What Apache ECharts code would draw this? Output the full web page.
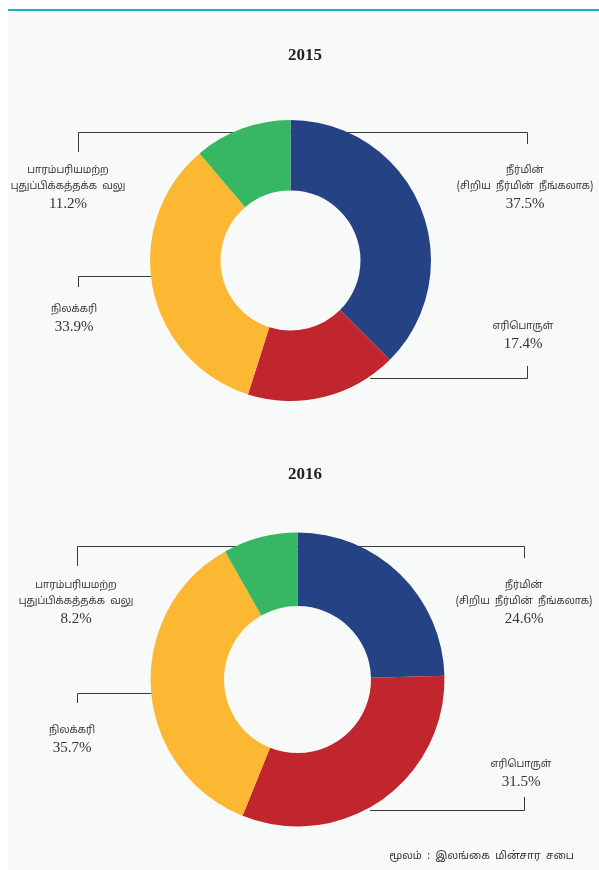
<!DOCTYPE html>
<html>
<head>
<meta charset="utf-8">
<script src="https://cdn.jsdelivr.net/npm/echarts@6/dist/echarts.min.js"></script>
<style>
  html, body { margin: 0; padding: 0; background: #ffffff; }
  #chart { width: 599px; height: 870px; }
</style>
</head>
<body>
<div id="chart"></div>
<script>
// data
const years = ['2015', '2016']
const categories = [
  'நீர்மின்\n(சிறிய  நீர்மின்  நீங்கலாக)',
  'எரிபொருள்',
  'நிலக்கரி',
  'பாரம்பரியமற்ற\nபுதுப்பிக்கத்தக்க  வலு'
]
const values2015 = [37.5, 17.4, 33.9, 11.2]
const values2016 = [24.6, 31.5, 35.7, 8.2]
const sourceText = 'மூலம்  :  இலங்கை  மின்சார  சபை'

const colors = ['#254284', '#c1262f', '#fdb833', '#37b664']

// where each label block sits (centre), per chart
const labelPos = [
  [[525, 188], [523, 336], [74, 319], [68, 188]],
  [[524, 603], [521, 774], [72, 740], [76, 603]]
]

const chart = echarts.init(document.getElementById('chart'))

function makeSeries (vals, idx, center, radius) {
  return {
    type: 'pie',
    center: center,
    radius: radius,
    startAngle: 90,
    clockwise: true,
    silent: true,
    z: 5,
    label: {
      show: true,
      position: 'outside',
      overflow: 'none',
      edgeDistance: 0,
      bleedMargin: 0,
      formatter: p => '{n|' + p.name.split('\n').join('}\n{n|') + '}\n{v|' + p.value.toFixed(1) + '%}',
      rich: {
        n: { fontFamily: 'Noto Sans Tamil, Noto Sans, sans-serif', fontSize: 10, color: '#333', lineHeight: 16, align: 'center' },
        v: { fontFamily: 'Liberation Serif, serif', fontSize: 15, color: '#333', lineHeight: 19, align: 'center' }
      }
    },
    labelLine: { show: false },
    labelLayout: p => ({
      x: labelPos[idx][p.dataIndex][0],
      y: labelPos[idx][p.dataIndex][1],
      align: 'center',
      verticalAlign: 'middle'
    }),
    data: categories.map((c, i) => ({ name: c, value: vals[i], itemStyle: { color: colors[i] } }))
  }
}

const lineStyle = { stroke: '#3a3a3a', lineWidth: 1, fill: null }
function bracket (pts) {
  return { type: 'polyline', z: -10, silent: true, shape: { points: pts }, style: lineStyle }
}

chart.setOption({
  animation: false,
  graphic: [
    { type: 'rect', z: -100, silent: true, shape: { x: 8, y: 11, width: 591, height: 859 }, style: { fill: '#f8fafa' } },
    { type: 'rect', z: -99, silent: true, shape: { x: 8, y: 9, width: 591, height: 2 }, style: { fill: '#16b4c8' } },
    bracket([[78.5, 152], [78.5, 132.5], [527.5, 132.5], [527.5, 144]]),
    bracket([[78.5, 287], [78.5, 276.5], [170, 276.5]]),
    bracket([[370, 378.5], [527.5, 378.5], [527.5, 366]]),
    bracket([[77.5, 566], [77.5, 546.5], [524.5, 546.5], [524.5, 558]]),
    bracket([[77.5, 703], [77.5, 693.5], [170, 693.5]]),
    bracket([[370, 810.5], [524.5, 810.5], [524.5, 797]])
  ],
  title: [
    { text: years[0], left: 300, top: 42, textAlign: 'center', textStyle: { fontFamily: 'Liberation Serif, serif', fontSize: 17, fontWeight: 'bold', color: '#222' } },
    { text: years[1], left: 300, top: 461, textAlign: 'center', textStyle: { fontFamily: 'Liberation Serif, serif', fontSize: 17, fontWeight: 'bold', color: '#222' } },
    { text: sourceText, right: 20, top: 846, textStyle: { fontFamily: 'Noto Sans Tamil, Noto Sans, sans-serif', fontSize: 10.5, fontWeight: 'normal', color: '#333' } }
  ],
  series: [
    makeSeries(values2015, 0, [290.5, 260.5], [70, 140.5]),
    makeSeries(values2016, 1, [297.5, 679.5], [73.5, 147])
  ]
})
</script>
</body>
</html>
